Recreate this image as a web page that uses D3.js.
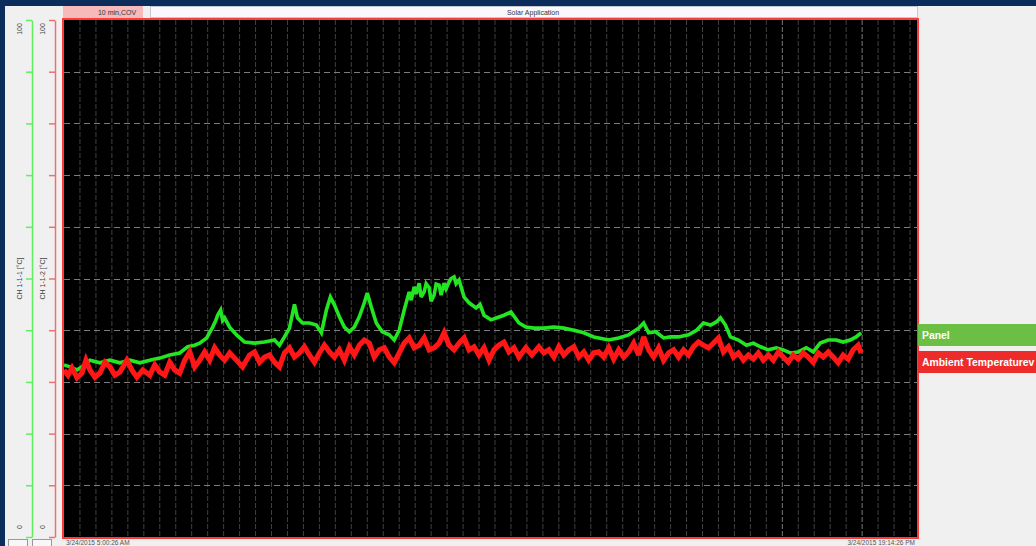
<!DOCTYPE html>
<html>
<head>
<meta charset="utf-8">
<script src="https://cdn.jsdelivr.net/npm/d3@7"></script>
<style>
  html, body { margin: 0; padding: 0; background: #f0f0f0; overflow: hidden; }
  svg { display: block; font-family: "Liberation Sans", Arial, sans-serif; }
</style>
</head>
<body>
<svg id="chart" width="1036" height="546"></svg>
<script>
// elapsed time (minutes from start of log) and readings in °C
const panelTime = [0, 6, 13, 21, 26, 36, 46, 56, 66, 76, 86, 96, 106, 116, 124, 131, 136, 143, 149, 152,
  154, 157, 159, 161, 166, 173, 181, 191, 201, 211, 216, 221, 226, 231, 234, 239, 246, 253, 258, 263,
  267, 271, 276, 281, 286, 291, 296, 301, 304, 308, 313, 319, 326, 331, 336, 341, 346, 348, 351, 353,
  356, 358, 361, 363, 366, 368, 371, 373, 376, 378, 381, 383, 386, 388, 391, 393, 396, 401, 406, 413,
  417, 421, 428, 434, 441, 448, 456, 463, 471, 481, 491, 501, 511, 521, 531, 536, 546, 556, 566, 576,
  581, 586, 593, 601, 608, 616, 626, 634, 641, 648, 654, 658, 663, 668, 676, 684, 691, 698, 706, 714,
  721, 728, 736, 744, 751, 758, 766, 774, 781, 788, 794, 799]
const panelTemp = [33.3, 32.9, 32.3, 33.3, 34.2, 33.7, 34.2, 33.7, 34.2, 33.7, 34.2, 34.6, 35.2, 35.6, 36.8, 37.1, 37.5, 38.5, 40.6, 41.8,
  42.9, 43.9, 41.9, 42.4, 40.6, 39.1, 37.7, 37.5, 37.7, 38.1, 37.1, 38.7, 40.4, 45.0, 42.4, 41.4, 41.4, 41.0, 39.5, 43.9,
  46.4, 44.9, 42.6, 40.6, 39.7, 40.6, 42.6, 45.3, 47.2, 44.5, 41.4, 39.7, 39.1, 38.1, 40.0, 43.9, 47.4, 45.8, 48.4, 47.0,
  49.1, 46.4, 47.4, 49.0, 48.2, 45.6, 46.8, 48.9, 48.7, 46.8, 49.1, 48.0, 49.3, 50.0, 50.3, 49.0, 49.7, 46.4, 45.3, 44.3,
  45.0, 42.9, 42.0, 42.4, 42.9, 43.5, 41.4, 40.6, 40.4, 40.4, 40.6, 40.4, 40.0, 39.5, 38.7, 38.5, 38.1, 38.5, 39.1, 40.4,
  41.4, 39.5, 39.7, 38.5, 38.7, 38.7, 39.1, 40.0, 41.4, 41.0, 41.6, 42.4, 41.0, 38.7, 38.1, 37.1, 37.5, 36.8, 36.2, 36.6,
  36.2, 35.6, 35.8, 36.6, 35.8, 37.5, 38.1, 38.1, 37.7, 38.1, 38.7, 39.5]

const ambientTime = [0, 4, 8, 13, 18, 22, 26, 31, 36, 41, 46, 51, 56, 63, 68, 73, 79, 86, 91, 96,
  101, 106, 111, 116, 121, 126, 131, 136, 141, 146, 151, 156, 161, 166, 173, 179, 186, 191, 196, 201,
  206, 211, 216, 221, 226, 231, 236, 241, 246, 251, 256, 261, 266, 271, 276, 281, 286, 291, 296, 301,
  306, 311, 316, 321, 326, 331, 336, 341, 346, 351, 356, 361, 366, 371, 376, 381, 386, 391, 396, 401,
  406, 411, 416, 421, 426, 431, 436, 441, 446, 451, 456, 463, 469, 476, 481, 486, 491, 496, 501, 506,
  511, 516, 521, 526, 531, 536, 541, 546, 551, 556, 561, 566, 571, 576, 581, 586, 591, 596, 601, 606,
  611, 616, 621, 626, 631, 636, 641, 646, 651, 656, 661, 666, 671, 676, 681, 686, 691, 696, 701, 706,
  711, 716, 721, 726, 731, 736, 741, 746, 751, 756, 761, 766, 771, 776, 781, 786, 791, 796, 799]
const ambientTemp = [32.3, 31.3, 32.7, 30.8, 31.7, 34.2, 32.3, 30.9, 31.7, 33.8, 32.9, 31.3, 31.9, 34.2, 32.3, 30.9, 32.3, 31.3, 33.3, 31.9,
  31.3, 33.8, 32.3, 31.7, 34.2, 35.8, 32.9, 34.2, 35.8, 34.2, 36.6, 35.2, 34.2, 35.6, 34.2, 32.9, 35.2, 35.8, 33.8, 34.8,
  35.2, 33.8, 32.9, 35.6, 36.6, 34.8, 35.6, 36.8, 35.2, 33.8, 35.6, 37.1, 35.8, 34.8, 36.2, 34.2, 36.8, 35.2, 37.1, 38.1,
  37.5, 34.8, 36.2, 36.6, 34.8, 33.7, 35.6, 37.5, 38.5, 36.6, 37.1, 38.5, 36.2, 36.6, 37.5, 39.5, 37.1, 36.2, 37.5, 38.5,
  36.2, 36.8, 35.2, 36.6, 34.2, 36.2, 37.1, 37.7, 35.8, 36.6, 34.8, 36.6, 35.2, 36.8, 35.6, 36.2, 34.8, 36.8, 35.2, 36.2,
  36.8, 34.8, 35.8, 34.2, 35.6, 35.8, 34.8, 36.6, 34.4, 36.2, 34.8, 35.8, 37.5, 35.2, 38.7, 36.2, 34.8, 36.6, 34.2, 35.6,
  36.2, 34.8, 36.2, 35.2, 36.8, 37.7, 37.1, 36.6, 37.5, 38.5, 35.8, 36.8, 34.8, 35.6, 34.2, 35.2, 34.4, 35.6, 34.2, 35.2,
  34.2, 35.8, 34.8, 33.8, 35.2, 34.4, 35.6, 34.8, 33.8, 35.6, 34.8, 35.8, 34.8, 33.7, 35.2, 34.4, 36.2, 37.1, 35.6]

const yTicks = [0, 10, 20, 30, 40, 50, 60, 70, 80, 90, 100]
const timeGrid = d3.range(0, 855, 16)
const majorTimes = [720, 800]
const timeLabels = ['3/24/2015 5:00:26 AM', '3/24/2015 19:14:26 PM']
const seriesNames = ['Panel', 'Ambient Temperaturev']
const seriesColors = ['#22e622', '#ff1414']
const legendColors = ['#6cbf45', '#ee2b2b']

const svg = d3.select('#chart')
const plot = { left: 64, top: 20, right: 917, bottom: 537 }

const defs = svg.append('defs')
defs.append('filter').attr('id', 'soft').append('feGaussianBlur').attr('stdDeviation', 0.6)

// window frame
svg.append('rect').attr('x', 0).attr('y', 0).attr('width', 1036).attr('height', 546).attr('fill', '#f0f0f0')
svg.append('rect').attr('x', 0).attr('y', 0).attr('width', 1036).attr('height', 6).attr('fill', '#0c2d5c')
svg.append('rect').attr('x', 0).attr('y', 0).attr('width', 5).attr('height', 546).attr('fill', '#0c2d5c')

const x = d3.scaleLinear().domain([0, 855]).range([plot.left, plot.right])
const y = d3.scaleLinear().domain([0, 100]).range([plot.bottom, plot.top])

// header tabs
svg.append('rect').attr('x', 63).attr('y', 6).attr('width', 80).attr('height', 12).attr('fill', '#f7b9b9')
svg.append('text').attr('x', 117).attr('y', 15).attr('text-anchor', 'middle')
  .attr('font-size', 7).attr('fill', '#333').text('10 min,COV')
svg.append('rect').attr('x', 150.5).attr('y', 6.5).attr('width', 767).attr('height', 11)
  .attr('fill', '#f9f9fd').attr('stroke', '#c8c8d0')
svg.append('text').attr('x', 533).attr('y', 15).attr('text-anchor', 'middle')
  .attr('font-size', 7).attr('fill', '#333').text('Solar Application')

// plot background
svg.append('rect').attr('x', plot.left).attr('y', plot.top)
  .attr('width', plot.right - plot.left).attr('height', plot.bottom - plot.top).attr('fill', '#000')

// vertical grid
svg.append('g')
  .selectAll('line')
  .data(timeGrid.slice(1))
  .join('line')
  .attr('x1', d => x(d)).attr('x2', d => x(d))
  .attr('y1', plot.top).attr('y2', plot.bottom)
  .attr('stroke', d => majorTimes.includes(d) ? '#7a7a7a' : '#404040')
  .attr('stroke-dasharray', '5,2')

// horizontal grid
svg.append('g')
  .selectAll('line')
  .data(yTicks.slice(1, -1))
  .join('line')
  .attr('x1', plot.left).attr('x2', plot.right)
  .attr('y1', d => Math.round(y(d)) + 0.5).attr('y2', d => Math.round(y(d)) + 0.5)
  .attr('stroke', '#7c7c7c')
  .attr('stroke-dasharray', '6,4')

// series, slightly softened like the logger screen
const line = d3.line().x(d => x(d[0])).y(d => y(d[1]))
const series = [
  { data: d3.zip(panelTime, panelTemp), color: seriesColors[0], width: 3.6 },
  { data: d3.zip(ambientTime, ambientTemp), color: seriesColors[1], width: 5.2 }
]
const traces = svg.append('g').attr('filter', 'url(#soft)')
series.forEach(s => {
  traces.append('path').datum(s.data).attr('d', line)
    .attr('fill', 'none').attr('stroke', s.color)
    .attr('stroke-width', s.width).attr('stroke-linejoin', 'miter').attr('stroke-miterlimit', 3)
})

// plot border
svg.append('rect').attr('x', plot.left - 1).attr('y', plot.top - 1)
  .attr('width', plot.right - plot.left + 2).attr('height', plot.bottom - plot.top + 2)
  .attr('fill', 'none').attr('stroke', '#ff3a3a').attr('stroke-width', 2)

// left axes (green = CH 1-1-1, red = CH 1-1-2)
const axes = [
  { x: 32, color: '#5ef05e', title: 'CH 1-1-1 [°C]', labelX: 20 },
  { x: 55, color: '#f07070', title: 'CH 1-1-2 [°C]', labelX: 43 }
]
axes.forEach(a => {
  const g = svg.append('g').attr('transform', `translate(${a.x},0)`)
    .call(d3.axisLeft(y).tickValues(yTicks).tickSize(6).tickSizeOuter(0).tickFormat(''))
  g.select('.domain').attr('stroke', a.color).attr('stroke-width', 1.5)
  g.selectAll('.tick line').attr('stroke', a.color).attr('stroke-width', 1.5)

  svg.append('text')
    .attr('transform', `translate(${a.labelX + 2},${(plot.top + plot.bottom) / 2}) rotate(-90)`)
    .attr('text-anchor', 'middle').attr('font-size', 7).attr('fill', '#444').text(a.title)
  svg.append('text')
    .attr('transform', `translate(${a.labelX + 2},${y(100) + 9}) rotate(-90)`)
    .attr('text-anchor', 'middle').attr('font-size', 7).attr('fill', '#444').text('100')
  svg.append('text')
    .attr('transform', `translate(${a.labelX + 2},${y(0) - 10}) rotate(-90)`)
    .attr('text-anchor', 'middle').attr('font-size', 7).attr('fill', '#444').text('0')
})

// small buttons under the axes
;[8, 32].forEach(bx => {
  svg.append('rect').attr('x', bx + 0.5).attr('y', 539.5).attr('width', 19).attr('height', 8)
    .attr('fill', '#f7f7f7').attr('stroke', '#999')
})

// time labels
svg.append('text').attr('x', plot.left + 2).attr('y', 545).attr('font-size', 6.5).attr('fill', '#555').text(timeLabels[0])
svg.append('text').attr('x', plot.right - 2).attr('y', 545).attr('text-anchor', 'end')
  .attr('font-size', 6.5).attr('fill', '#555').text(timeLabels[1])

// legend
const legend = svg.append('g')
seriesNames.forEach((name, i) => {
  const ly = 324 + i * 27
  legend.append('rect').attr('x', 918).attr('y', ly).attr('width', 118).attr('height', 22).attr('fill', legendColors[i])
  legend.append('text').attr('x', 922).attr('y', ly + 15).attr('font-size', 10.4).attr('font-weight', 'bold')
    .attr('fill', '#fff').text(name)
})
</script>
</body>
</html>
